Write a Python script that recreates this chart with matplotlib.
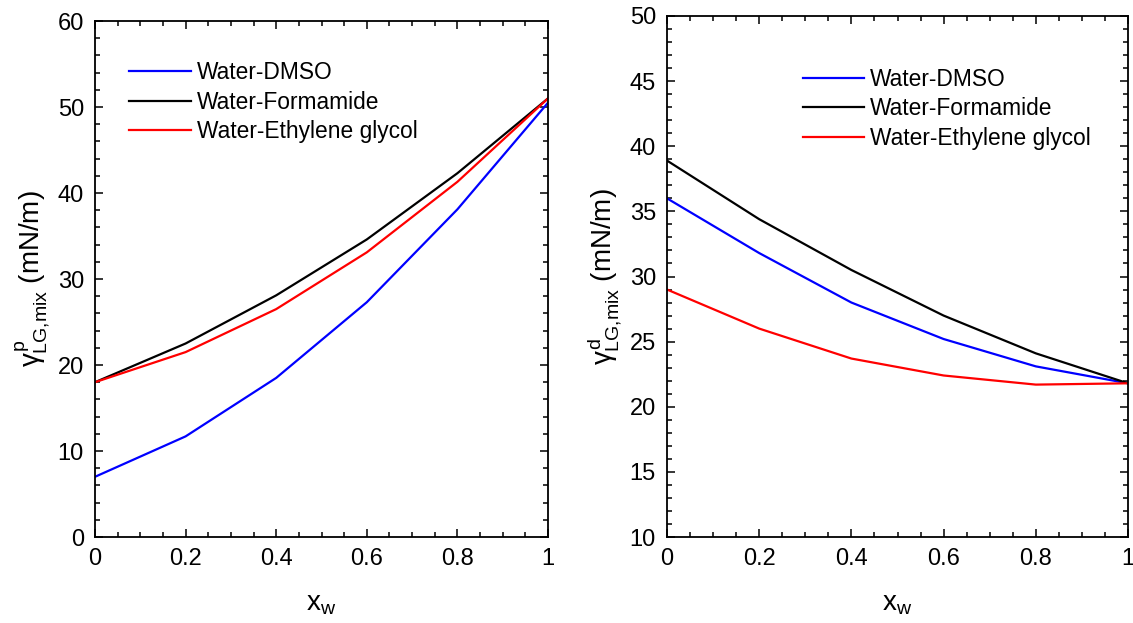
import numpy as np
import matplotlib.pyplot as plt
from matplotlib.ticker import MultipleLocator

plt.rcParams['font.family'] = ['Liberation Sans', 'DejaVu Sans']
plt.rcParams['mathtext.fontset'] = 'custom'
plt.rcParams['mathtext.rm'] = 'Liberation Sans'
plt.rcParams['mathtext.it'] = 'Liberation Sans'

# data
x_w = [0, 0.2, 0.4, 0.6, 0.8, 1.0]
labels = ['Water-DMSO', 'Water-Formamide', 'Water-Ethylene glycol']
colors = ['#0000ff', '#000000', '#ff0000']

polar_dmso = [7.0, 11.7, 18.5, 27.3, 38.1, 50.5]
polar_form = [18.0, 22.5, 28.1, 34.6, 42.3, 51.0]
polar_eg = [18.0, 21.5, 26.5, 33.1, 41.3, 51.0]

disp_dmso = [36.0, 31.8, 28.0, 25.2, 23.1, 21.8]
disp_form = [38.9, 34.4, 30.5, 27.0, 24.1, 21.8]
disp_eg = [29.0, 26.0, 23.7, 22.4, 21.7, 21.8]

fig = plt.figure(figsize=(11.33, 6.23), dpi=100)
ax1 = fig.add_axes([95/1133, 1 - 537/623, 453/1133, 516/623])
ax2 = fig.add_axes([667/1133, 1 - 537/623, 461/1133, 521/623])

def style(ax, ylim, major, minor):
    ax.set_xlim(0, 1)
    ax.set_ylim(*ylim)
    ax.xaxis.set_major_locator(MultipleLocator(0.2))
    ax.xaxis.set_minor_locator(MultipleLocator(0.05))
    ax.yaxis.set_major_locator(MultipleLocator(major))
    ax.yaxis.set_minor_locator(MultipleLocator(minor))
    ax.set_xticks([0, 0.2, 0.4, 0.6, 0.8, 1.0])
    ax.set_xticklabels(['0', '0.2', '0.4', '0.6', '0.8', '1'])
    ax.tick_params(which='both', direction='in', top=True, right=True,
                   labelsize=17, width=1.1)
    ax.tick_params(which='major', length=6, pad=8)
    ax.tick_params(which='minor', length=3.5)
    for s in ax.spines.values():
        s.set_linewidth(1.3)
    ax.set_xlabel(r'x$_{\mathrm{w}}$', fontsize=20, labelpad=15)

leg_kw = dict(loc='upper left', frameon=False, fontsize=16.4, handlelength=2.7,
              handletextpad=0.26, labelspacing=0.29)

for y, lab, c in zip([polar_dmso, polar_form, polar_eg], labels, colors):
    ax1.plot(x_w, y, color=c, lw=1.6, label=lab)
style(ax1, (0, 60), 10, 2)
ax1.set_ylabel(r'$\gamma^{p}_{LG{,}mix}$ (mN/m)', fontsize=20, labelpad=4)
ax1.legend(bbox_to_anchor=(0.03, 0.962), **leg_kw)

for y, lab, c in zip([disp_dmso, disp_form, disp_eg], labels, colors):
    ax2.plot(x_w, y, color=c, lw=1.6, label=lab)
style(ax2, (10, 50), 5, 1)
ax2.set_ylabel(r'$\gamma^{d}_{LG{,}mix}$ (mN/m)', fontsize=20, labelpad=4)
ax2.legend(bbox_to_anchor=(0.25, 0.94), **leg_kw)

fig.savefig('out.png', dpi=100)
